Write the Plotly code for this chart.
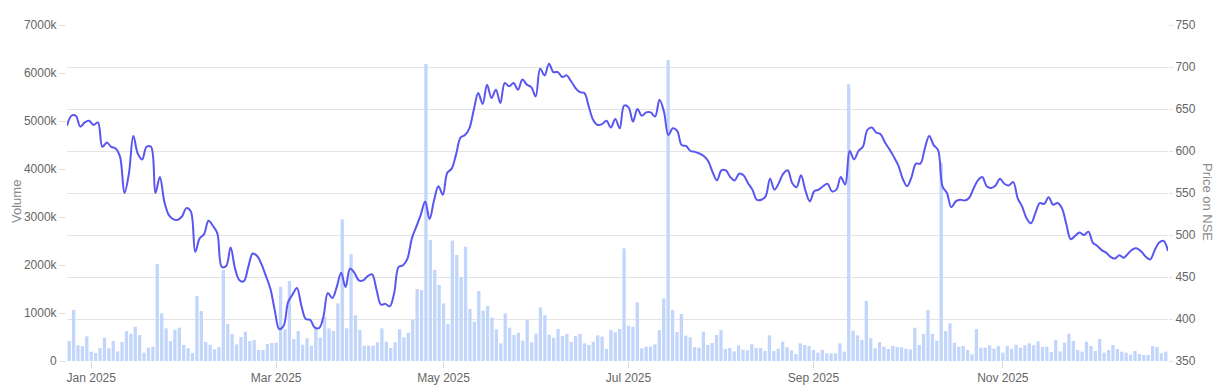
import pandas as pd
import plotly.graph_objects as go

# ---- categories: NSE trading days ----
start_date = "2024-12-24"
end_date = "2025-12-26"
holidays = ["2024-12-25", "2025-02-26", "2025-03-14", "2025-03-31", "2025-04-10",
            "2025-04-14", "2025-04-18", "2025-05-01", "2025-08-15", "2025-08-27",
            "2025-10-02", "2025-10-22", "2025-11-05", "2025-12-25"]
dates = [d.strftime("%Y-%m-%d") for d in pd.bdate_range(start_date, end_date)
         if d.strftime("%Y-%m-%d") not in holidays]

# ---- volume (thousands of shares) ----
volume_k = [
    417, 1062, 326, 312, 514, 194, 167, 271, 486, 264, 417, 201, 396, 625, 569, 715, 542, 174, 278, 299,
    2021, 993, 681, 417, 653, 694, 333, 264, 167, 1354, 1042, 396, 340, 243, 292, 1896, 771, 563, 347, 500,
    611, 417, 438, 229, 229, 354, 375, 382, 1549, 660, 1667, 458, 625, 340, 472, 319, 700, 486, 924, 681,
    625, 1201, 2951, 681, 2222, 951, 646, 319, 319, 319, 389, 681, 403, 271, 389, 660, 493, 590, 854, 1500,
    1479, 6188, 2521, 1896, 1583, 1201, 771, 2507, 2208, 1743, 2382, 1083, 819, 1458, 1049, 1146, 903, 660, 368, 993,
    694, 542, 590, 424, 854, 389, 569, 1118, 958, 549, 486, 667, 521, 563, 396, 521, 563, 368, 333, 403,
    535, 507, 250, 646, 597, 667, 2347, 736, 715, 1222, 264, 299, 299, 347, 646, 1306, 6271, 1063, 604, 979,
    528, 493, 292, 278, 611, 333, 375, 542, 646, 250, 271, 201, 326, 236, 222, 347, 271, 271, 208, 535,
    208, 257, 403, 285, 222, 146, 368, 333, 312, 229, 174, 229, 160, 160, 160, 368, 194, 5764, 632, 535,
    438, 1250, 472, 264, 396, 299, 250, 312, 292, 285, 257, 243, 694, 333, 563, 1063, 563, 424, 4132, 625,
    785, 382, 299, 312, 229, 139, 667, 278, 278, 326, 257, 312, 174, 312, 257, 340, 278, 326, 368, 326,
    410, 292, 299, 188, 438, 201, 382, 569, 417, 229, 194, 403, 312, 208, 458, 174, 229, 333, 250, 194,
    174, 132, 208, 146, 125, 125, 312, 292, 160, 194,
]
volume = [v * 1000 for v in volume_k]

# ---- price on NSE ----
price = [
    630, 642, 642, 629, 634, 636, 631, 634, 605, 610, 605, 603, 593, 550, 573, 618, 597, 590, 605, 605,
    550, 569, 540, 524, 519, 518, 522, 532, 528, 480, 496, 501, 517, 511, 502, 462, 463, 485, 460, 446,
    445, 462, 478, 475, 465, 451, 436, 410, 388, 392, 420, 429, 437, 416, 400, 399, 390, 389, 403, 431,
    425, 438, 455, 438, 460, 455, 446, 446, 451, 453, 435, 417, 418, 415, 431, 462, 464, 472, 496, 510,
    524, 540, 519, 541, 558, 548, 574, 579, 596, 616, 619, 627, 649, 669, 656, 679, 663, 673, 657, 681,
    677, 681, 673, 685, 679, 676, 665, 698, 690, 704, 694, 694, 688, 690, 683, 675, 670, 669, 653, 637,
    631, 632, 636, 628, 638, 627, 654, 652, 635, 650, 642, 646, 646, 641, 661, 647, 619, 627, 624, 607,
    606, 600, 599, 597, 594, 588, 575, 565, 577, 577, 569, 565, 573, 571, 562, 554, 542, 542, 546, 567,
    554, 562, 573, 577, 562, 557, 571, 553, 540, 552, 554, 558, 561, 552, 554, 569, 560, 600, 590, 600,
    605, 625, 628, 622, 620, 610, 602, 593, 583, 567, 558, 569, 585, 585, 603, 618, 607, 601, 558, 550,
    533, 540, 542, 541, 544, 555, 565, 569, 558, 556, 559, 567, 561, 559, 563, 544, 534, 520, 514, 526,
    538, 537, 545, 536, 538, 532, 513, 495, 499, 503, 500, 504, 491, 487, 482, 479, 474, 472, 476, 473,
    478, 483, 484, 480, 474, 471, 482, 491, 493, 481,
]

# ---- axis ticks ----
x_tick_dates = ["2025-01-01", "2025-03-03", "2025-05-02", "2025-07-01", "2025-09-01", "2025-11-03"]
x_tick_labels = ["Jan 2025", "Mar 2025", "May 2025", "Jul 2025", "Sep 2025", "Nov 2025"]
vol_tick_vals = [0, 1000000, 2000000, 3000000, 4000000, 5000000, 6000000, 7000000]
vol_tick_text = ["0", "1000k", "2000k", "3000k", "4000k", "5000k", "6000k", "7000k"]

n = min(len(dates), len(volume), len(price))
dates, volume, price = dates[:n], volume[:n], price[:n]

FONT = "Liberation Sans, Arial, sans-serif"
GRID = "#e3e3e3"
TITLE_COLOR = "#8a8a8a"

fig = go.Figure()
fig.add_trace(go.Bar(x=dates, y=volume, marker=dict(color="#c2d6fb", line=dict(width=0)),
                     name="Volume", xaxis="x", yaxis="y"))
fig.add_trace(go.Scatter(x=dates, y=price, mode="lines", name="Price",
                         line=dict(color="#5a56f0", width=2, shape="spline"),
                         xaxis="x2", yaxis="y2"))

fig.update_layout(
    width=1227, height=388,
    margin=dict(l=67, r=59, t=25, b=27, autoexpand=False),
    paper_bgcolor="white", plot_bgcolor="white",
    showlegend=False, bargap=0.25,
    font=dict(family=FONT, size=12, color="#666666"),
    xaxis=dict(type="category", range=[-0.5, n - 0.5], tickmode="array",
               tickvals=x_tick_dates, ticktext=x_tick_labels, automargin=False,
               showgrid=False, zeroline=False, showline=False,
               ticks="outside", ticklen=6, tickcolor="#d8d8d8",
               tickfont=dict(size=12, color="#666666")),
    xaxis2=dict(type="category", range=[0, n - 1], overlaying="x", visible=False, automargin=False),
    yaxis=dict(range=[0, 7000000], tickmode="array", tickvals=vol_tick_vals, ticktext=vol_tick_text,
               showgrid=False, zeroline=False, showline=False, automargin=False,
               ticks="outside", ticklen=7, tickcolor=GRID),
    yaxis2=dict(range=[350, 750], dtick=50, overlaying="y", side="right", automargin=False,
                showgrid=True, gridcolor=GRID, gridwidth=1, zeroline=False, showline=False,
                ticks="outside", ticklen=4, tickcolor=GRID),
    annotations=[
        dict(text="Volume", xref="paper", yref="paper", x=(16 - 67) / 1101, y=(361 - 202) / 336,
             xanchor="center", yanchor="middle", textangle=-90, showarrow=False,
             font=dict(family=FONT, size=13, color=TITLE_COLOR)),
        dict(text="Price on NSE", xref="paper", yref="paper", x=(1208 - 67) / 1101, y=(361 - 202) / 336,
             xanchor="center", yanchor="middle", textangle=90, showarrow=False,
             font=dict(family=FONT, size=13, color=TITLE_COLOR)),
    ],
)

fig.write_html("out.html")
